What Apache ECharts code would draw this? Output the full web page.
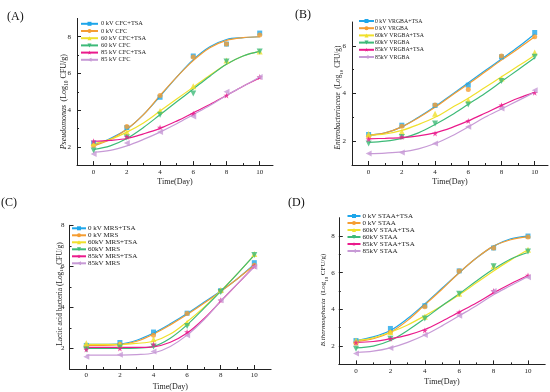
<!DOCTYPE html>
<html><head><meta charset="utf-8">
<script src="https://cdn.jsdelivr.net/npm/echarts@6/dist/echarts.min.js"></script>
<style>html,body{margin:0;padding:0;background:#fff}#c{width:550px;height:392px}</style>
</head><body><div id="c"></div>
<script>
// ---- data ----
const days = [0, 2, 4, 6, 8, 10];
const fitDays = [0, 1, 2, 3, 4, 5, 6, 7, 8, 9, 10];

const namesA = ['0 kV CFC+TSA', '0 kV CFC', '60 kV CFC+TSA', '60 kV CFC', '85 kV CFC+TSA', '85 kV CFC'];
const ptsA = [
  [2.2, 3.05, 4.7, 6.95, 7.6, 8.2],
  [2.05, 3.1, 4.8, 6.9, 7.6, 8.1],
  [2.2, 2.8, 3.95, 5.3, 6.7, 7.2],
  [1.8, 2.5, 3.75, 4.9, 6.65, 7.2],
  [2.3, 2.55, 3.05, 3.8, 4.8, 5.8],
  [1.6, 2.2, 2.8, 3.65, 5.0, 5.8]
];
const fitA = [
  [2.1, 2.45, 2.95, 3.75, 4.75, 5.8, 6.75, 7.45, 7.85, 7.95, 8.0],
  [2.05, 2.4, 2.95, 3.75, 4.8, 5.8, 6.7, 7.4, 7.8, 7.95, 8.0],
  [2.15, 2.4, 2.8, 3.3, 3.95, 4.6, 5.25, 5.9, 6.5, 6.95, 7.2],
  [1.85, 2.05, 2.45, 3.05, 3.75, 4.45, 5.15, 5.85, 6.5, 6.95, 7.2],
  [2.3, 2.35, 2.45, 2.7, 3.0, 3.4, 3.85, 4.3, 4.8, 5.3, 5.75],
  [1.7, 1.8, 2.05, 2.4, 2.8, 3.25, 3.75, 4.25, 4.8, 5.3, 5.8]
];

const namesB = ['0 kV VRGBA+TSA', '0 kV VRGBA', '60kV VRGBA+TSA', '60kV VRGBA', '85kV VRGBA+TSA', '85kV VRGBA'];
const ptsB = [
  [2.28, 2.67, 3.5, 4.35, 5.54, 6.56],
  [2.2, 2.63, 3.52, 4.17, 5.57, 6.38],
  [2.3, 2.4, 3.15, 3.72, 4.63, 5.72],
  [1.9, 2.18, 2.74, 3.54, 4.52, 5.54],
  [2.08, 2.18, 2.32, 2.85, 3.51, 4.03],
  [1.48, 1.52, 1.9, 2.6, 3.37, 4.14]
];
const fitB = [
  [2.25, 2.35, 2.6, 3.0, 3.45, 3.95, 4.45, 4.95, 5.45, 5.95, 6.5],
  [2.25, 2.35, 2.6, 2.98, 3.42, 3.92, 4.4, 4.9, 5.4, 5.88, 6.38],
  [2.25, 2.3, 2.45, 2.7, 3.0, 3.4, 3.8, 4.25, 4.7, 5.15, 5.6],
  [1.95, 2.0, 2.12, 2.35, 2.7, 3.1, 3.55, 4.0, 4.5, 5.0, 5.5],
  [2.1, 2.12, 2.15, 2.22, 2.35, 2.57, 2.85, 3.17, 3.5, 3.8, 4.05],
  [1.48, 1.5, 1.55, 1.68, 1.9, 2.22, 2.6, 3.0, 3.35, 3.7, 4.05]
];

const namesC = ['0 kV MRS+TSA', '0 kV MRS', '60kV MRS+TSA', '60kV MRS', '85kV MRS+TSA', '85kV MRS'];
const ptsC = [
  [2.15, 2.29, 2.8, 3.72, 4.82, 6.18],
  [2.1, 2.2, 2.65, 3.7, 4.8, 6.05],
  [2.25, 2.2, 2.45, 3.25, 4.85, 6.6],
  [1.95, 2.05, 2.1, 3.1, 4.75, 6.55],
  [1.95, 2.0, 2.2, 2.8, 4.35, 6.0],
  [1.6, 1.7, 1.85, 2.65, 4.35, 5.98]
];
const fitC = [
  [2.2, 2.2, 2.22, 2.4, 2.75, 3.2, 3.7, 4.25, 4.8, 5.4, 6.1],
  [2.15, 2.15, 2.18, 2.35, 2.7, 3.15, 3.65, 4.2, 4.78, 5.4, 6.05],
  [2.2, 2.2, 2.2, 2.25, 2.35, 2.7, 3.3, 4.0, 4.8, 5.65, 6.55],
  [2.0, 2.0, 2.0, 2.02, 2.1, 2.5, 3.15, 3.95, 4.78, 5.65, 6.55],
  [2.05, 2.05, 2.05, 2.05, 2.08, 2.3, 2.75, 3.45, 4.3, 5.15, 6.0],
  [1.68, 1.68, 1.68, 1.7, 1.78, 2.1, 2.65, 3.4, 4.3, 5.15, 5.98]
];

const namesD = ['0 kV STAA+TSA', '0 kV STAA', '60kV STAA+TSA', '60kV STAA', '85kV STAA+TSA', '85kV STAA'];
const ptsD = [
  [2.3, 2.96, 4.2, 6.1, 7.35, 8.0],
  [2.15, 2.75, 4.15, 6.1, 7.35, 7.95],
  [2.3, 2.75, 3.6, 4.85, 6.35, 7.25],
  [1.85, 2.4, 3.5, 4.85, 6.35, 7.15],
  [2.2, 2.4, 2.85, 3.85, 5.0, 5.85],
  [1.6, 1.9, 2.6, 3.65, 5.0, 5.75]
];
const fitD = [
  [2.3, 2.5, 2.85, 3.5, 4.3, 5.15, 6.0, 6.8, 7.45, 7.85, 8.0],
  [2.25, 2.4, 2.75, 3.4, 4.25, 5.1, 6.0, 6.8, 7.45, 7.8, 7.95],
  [2.3, 2.45, 2.75, 3.15, 3.65, 4.2, 4.8, 5.45, 6.1, 6.7, 7.25],
  [1.9, 2.0, 2.3, 2.85, 3.5, 4.2, 4.85, 5.55, 6.2, 6.75, 7.1],
  [2.2, 2.25, 2.4, 2.6, 2.9, 3.35, 3.85, 4.35, 4.9, 5.4, 5.85],
  [1.65, 1.72, 1.9, 2.2, 2.6, 3.1, 3.65, 4.2, 4.8, 5.3, 5.8]
];

const xTicks = [0, 2, 4, 6, 8, 10];
const xMinorTicks = [1, 3, 5, 7, 9];

// ---- styling ----
const FONT = '"Liberation Serif", "Times New Roman", serif';
const colors = ['#1ea6ea', '#f59d32', '#f0e02c', '#3dba78', '#ea1a8c', '#c79ad6'];
const star = 'path://M12,0 L14.9,8.6 L24,8.6 L16.6,14 L19.4,22.8 L12,17.4 L4.6,22.8 L7.4,14 L0,8.6 L9.1,8.6 Z';
const symbols = ['rect', 'circle', 'triangle', 'triangle', star, 'triangle'];
const rotates = [0, 0, 0, 180, 0, 90];
const symSizes = [5, 5, 6, 6, 6, 6];

const panels = [
  {names: namesA, pts: ptsA, fit: fitA, grid: {left: 77, top: 18.4, width: 196, height: 146.7},
   xMax: 10.8, yMin: 1, yMax: 9, yTicks: [2, 4, 6, 8], yMinor: [3, 5, 7],
   legend: {left: 80, top: 20.8, w: 17, pad: -2, font: 6.4, gap: 1.2},
   xGap: 13, xLabelMargin: 4, yLabelMargin: 6},
  {names: namesB, pts: ptsB, fit: fitB, grid: {left: 352, top: 22, width: 196, height: 143},
   xMax: 10.8, yMin: 1, yMax: 7, yTicks: [2, 4, 6], yMinor: [3, 5],
   legend: {left: 358, top: 18, w: 15, pad: -4, font: 5.8, gap: 1.2},
   xGap: 13, xLabelMargin: 4, yLabelMargin: 6},
  {names: namesC, pts: ptsC, fit: fitC, grid: {left: 69.5, top: 225.3, width: 201.6, height: 144.7},
   xMax: 11, yMin: 1, yMax: 8, yTicks: [2, 4, 6, 8], yMinor: [3, 5, 7],
   legend: {left: 71, top: 224.8, w: 14, pad: -3, font: 7, gap: 0},
   xGap: 14, xLabelMargin: 2.5, yLabelMargin: 5},
  {names: namesD, pts: ptsD, fit: fitD, grid: {left: 338.8, top: 217.7, width: 206.4, height: 146.7},
   xMax: 11, yMin: 1, yMax: 9, yTicks: [2, 4, 6, 8], yMinor: [3, 5, 7],
   legend: {left: 346.5, top: 212.5, w: 13, pad: -3, font: 7, gap: 0},
   xGap: 14, xLabelMargin: 3.5, yLabelMargin: 4}
];

const yNames = [
  {text: '{i|Pseudomonas} {n|(Log}{s|10}{n| CFU/g)}', x: 63.5, y: 101.7, font: 8},
  {text: '{i|Enterobacteriaceae} {n|(Log}{s|10}{n| CFU/g)}', x: 338.5, y: 97.5, font: 7.3},
  {text: '{n|Lactic acid bacteria (Log}{s|10}{n| CFU/g)}', x: 60.5, y: 294, font: 7.4},
  {text: '{i|B.thermosphacta} {n|(Log}{s|10}{n| CFU/g)}', x: 323.5, y: 300, font: 7}
];
const panelLabels = [
  {text: '(A)', x: 7, y: 17},
  {text: '(B)', x: 295, y: 15},
  {text: '(C)', x: 1, y: 203},
  {text: '(D)', x: 288, y: 203}
];

const grids = [], xAxes = [], yAxes = [], series = [], legends = [];
panels.forEach((p, i) => {
  grids.push(Object.assign({containLabel: false}, p.grid));
  const axLine = {show: true, onZero: false, lineStyle: {color: '#222', width: 1}};
  xAxes.push({
    type: 'value', gridIndex: i, min: -1, max: p.xMax, position: 'bottom',
    axisLine: axLine,
    axisTick: {show: true, inside: true, length: 4, customValues: xTicks, lineStyle: {color: '#222'}},
    axisLabel: {show: true, customValues: xTicks, fontSize: 7, fontFamily: FONT, color: '#222', margin: p.xLabelMargin},
    splitLine: {show: false},
    name: 'Time(Day)', nameLocation: 'middle', nameGap: p.xGap,
    nameTextStyle: {fontSize: 8, fontFamily: FONT, color: '#222'}
  });
  xAxes.push({
    type: 'value', gridIndex: i, min: -1, max: p.xMax, position: 'bottom',
    axisLine: {show: false, onZero: false},
    axisTick: {show: true, inside: true, length: 2, customValues: xMinorTicks, lineStyle: {color: '#222'}},
    axisLabel: {show: false}, splitLine: {show: false}
  });
  yAxes.push({
    type: 'value', gridIndex: i, min: p.yMin, max: p.yMax, position: 'left',
    axisLine: axLine,
    axisTick: {show: true, inside: true, length: 4, customValues: p.yTicks, lineStyle: {color: '#222'}},
    axisLabel: {show: true, customValues: p.yTicks, fontSize: 7, fontFamily: FONT, color: '#222', margin: p.yLabelMargin},
    splitLine: {show: false}
  });
  yAxes.push({
    type: 'value', gridIndex: i, min: p.yMin, max: p.yMax, position: 'left',
    axisLine: {show: false, onZero: false},
    axisTick: {show: true, inside: true, length: 2, customValues: p.yMinor, lineStyle: {color: '#222'}},
    axisLabel: {show: false}, splitLine: {show: false}
  });
  p.names.forEach((nm, j) => {
    series.push({
      type: 'line', name: nm, xAxisIndex: 2 * i, yAxisIndex: 2 * i,
      data: p.fit[j].map((v, k) => [fitDays[k], v]),
      smooth: 0.35, showSymbol: false, symbol: symbols[j], symbolRotate: rotates[j],
      lineStyle: {width: 1.2, color: colors[j]}, itemStyle: {color: colors[j]},
      z: 2, silent: true, animation: false
    });
    series.push({
      type: 'scatter', name: nm + ' data', xAxisIndex: 2 * i, yAxisIndex: 2 * i,
      data: p.pts[j].map((v, k) => [days[k], v]),
      symbol: symbols[j], symbolRotate: rotates[j], symbolSize: symSizes[j],
      itemStyle: {color: colors[j]}, z: 3, silent: true, animation: false
    });
  });
  legends.push({
    data: p.names, orient: 'vertical', left: p.legend.left, top: p.legend.top,
    itemWidth: p.legend.w, itemHeight: 5, itemGap: p.legend.gap, padding: 0, selectedMode: false,
    textStyle: {fontSize: p.legend.font, fontFamily: FONT, color: '#222', padding: [0, 0, 0, p.legend.pad]}
  });
});

const graphics = [];
yNames.forEach(n => {
  graphics.push({
    type: 'text', x: n.x, y: n.y, rotation: Math.PI / 2, silent: true,
    style: {
      text: n.text, align: 'center', verticalAlign: 'middle', fill: '#222',
      rich: {
        i: {fontSize: n.font, fontFamily: FONT, fontStyle: 'italic', fill: '#222'},
        n: {fontSize: n.font, fontFamily: FONT, fill: '#222'},
        s: {fontSize: n.font * 0.68, fontFamily: FONT, fill: '#222', verticalAlign: 'bottom'}
      }
    }
  });
});
panelLabels.forEach(l => {
  graphics.push({
    type: 'text', x: l.x, y: l.y, silent: true,
    style: {text: l.text, fontSize: 12, fontFamily: FONT, fill: '#111', align: 'left', verticalAlign: 'middle'}
  });
});

const chart = echarts.init(document.getElementById('c'), null, {renderer: 'canvas'});
chart.setOption({
  animation: false,
  backgroundColor: '#fff',
  grid: grids, xAxis: xAxes, yAxis: yAxes, series: series, legend: legends,
  graphic: graphics
});
</script></body></html>
